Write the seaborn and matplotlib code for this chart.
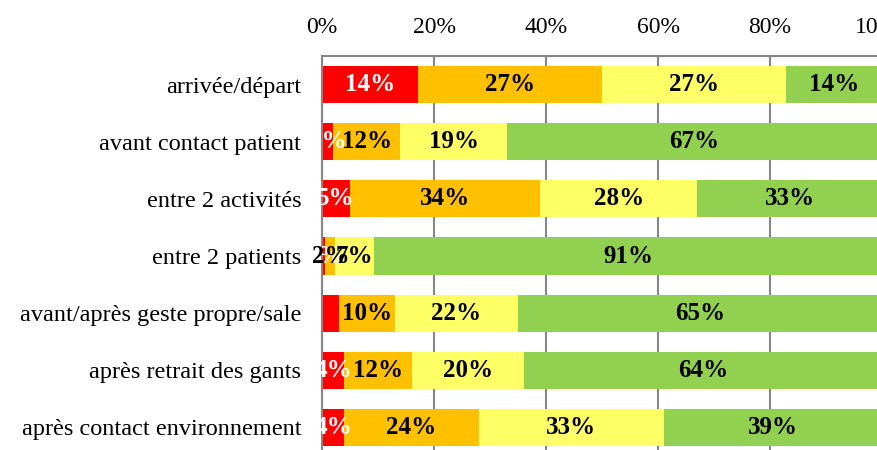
import matplotlib
matplotlib.use("Agg")
import matplotlib.pyplot as plt
import seaborn as sns
import numpy as np
import pandas as pd

categories = [
    "arrivée/départ",
    "avant contact patient",
    "entre 2 activités",
    "entre 2 patients",
    "avant/après geste propre/sale",
    "après retrait des gants",
    "après contact environnement",
]
series_names = ["rouge", "orange", "jaune", "vert"]
red_vals = [14, 2, 5, 0.6, 3, 4, 4]
orange_vals = [27, 12, 34, 1.8, 10, 12, 24]
yellow_vals = [27, 19, 28, 7, 22, 20, 33]
green_vals = [14, 67, 33, 91, 65, 64, 39]
red_labels = ["14%", "2%", "5%", "1%", None, "4%", "4%"]
orange_labels = ["27%", "12%", "34%", "2%", "10%", "12%", "24%"]
yellow_labels = ["27%", "19%", "28%", "7%", "22%", "20%", "33%"]
green_labels = ["14%", "67%", "33%", "91%", "65%", "64%", "39%"]
xtick_vals = [0, 20, 40, 60, 80, 100]
xtick_labels = ["0%", "20%", "40%", "60%", "80%", "100%"]

colors = ["#FF0000", "#FFC000", "#FFFF66", "#92D050"]
label_colors = ["white", "black", "black", "black"]

sns.set_style("white")
plt.rcParams["font.family"] = ["Liberation Serif", "DejaVu Serif"]

vals = np.array([red_vals, orange_vals, yellow_vals, green_vals], dtype=float)
totals = vals.sum(axis=0)
norm = vals / totals * 100
cum = np.cumsum(norm, axis=0)
labels = [red_labels, orange_labels, yellow_labels, green_labels]

fig = plt.figure(figsize=(8.78, 4.5), dpi=100)
ax = fig.add_axes([322 / 878, 1 - 456 / 450, 560 / 878, 400 / 450])

for i in range(3, -1, -1):
    df = pd.DataFrame({"cat": categories, "val": cum[i]})
    sns.barplot(data=df, x="val", y="cat", orient="h", color=colors[i],
                saturation=1, width=0.65, ax=ax, zorder=3, edgecolor="none")

for i in range(4):
    for j in range(len(categories)):
        lab = labels[i][j]
        if lab is None:
            continue
        start = cum[i][j] - norm[i][j]
        ax.text(start + norm[i][j] / 2, j, lab, ha="center", va="center",
                fontsize=18, fontweight="bold", color=label_colors[i], zorder=5)

ax.set_xlim(0, 100)
ax.set_ylim(6.5, -0.5)
ax.xaxis.tick_top()
ax.set_xticks(xtick_vals)
ax.set_xticklabels(xtick_labels)
ax.tick_params(axis="x", length=0, pad=13, labelsize=17, colors="black")
ax.tick_params(axis="y", length=0, pad=15, labelsize=17.5, colors="black")
ax.set_xlabel("")
ax.set_ylabel("")
ax.grid(axis="x", color="#868686", linewidth=1.5, zorder=1)
ax.set_axisbelow(True)
for s in ["right", "bottom"]:
    ax.spines[s].set_visible(False)
for s in ["top", "left"]:
    ax.spines[s].set_color("#868686")
    ax.spines[s].set_linewidth(1.5)
    ax.spines[s].set_zorder(4)

fig.savefig("out.png", dpi=100)
